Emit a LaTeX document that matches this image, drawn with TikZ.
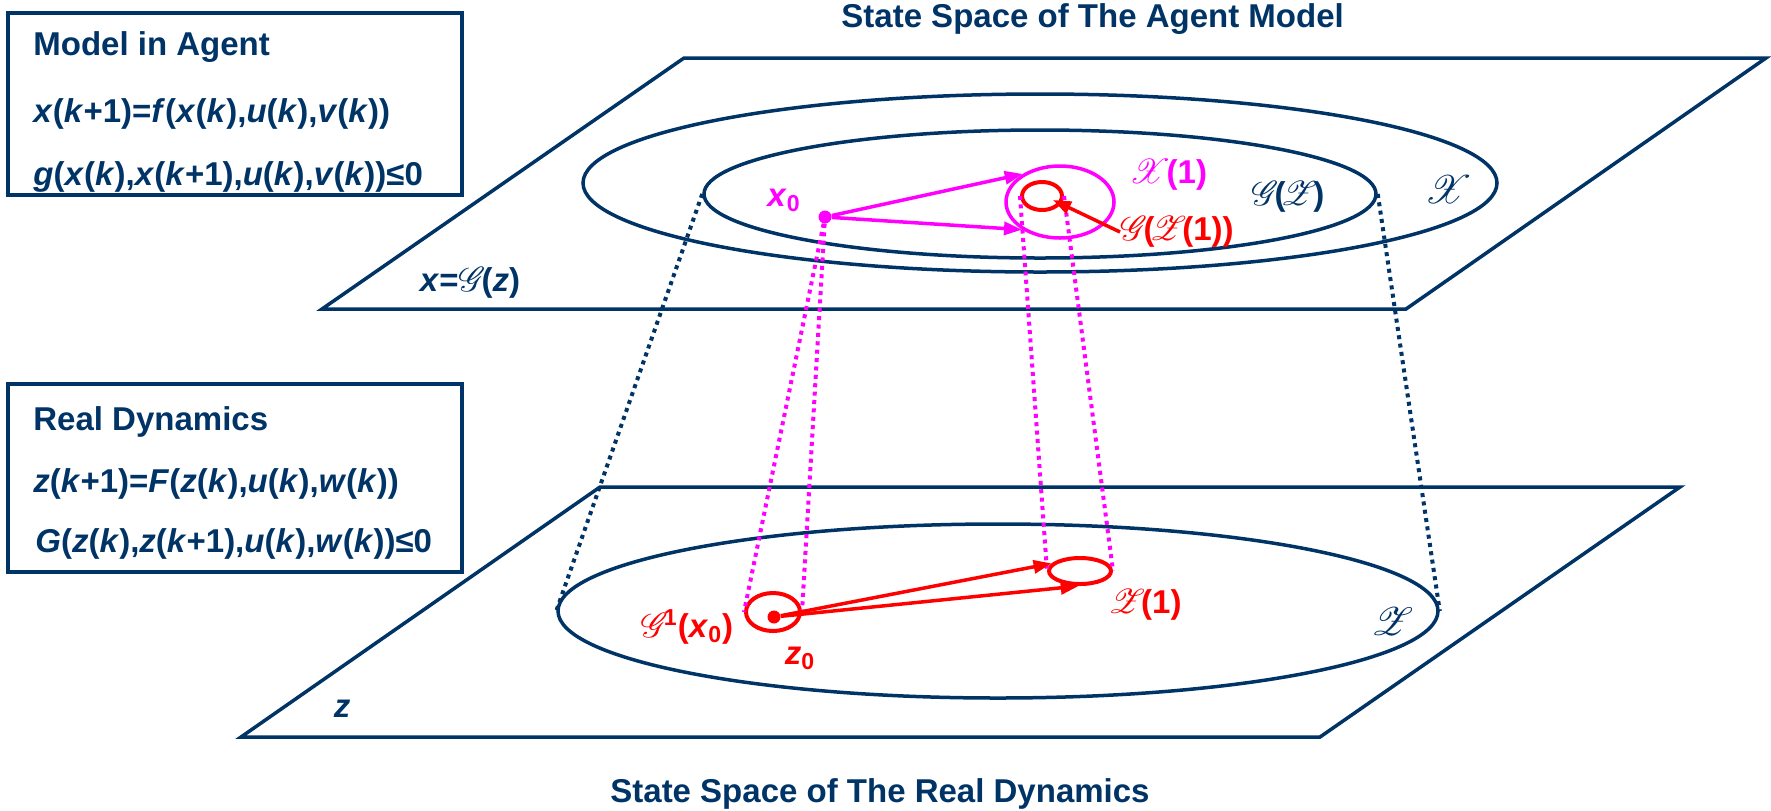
\documentclass[tikz,border=0pt]{standalone}
\usepackage{fontspec}
\setmainfont{Liberation Sans}
\usepackage{mathrsfs}
\usetikzlibrary{shapes.geometric,arrows.meta,calc}
\definecolor{navy}{RGB}{0,51,102}
\definecolor{mag}{RGB}{255,0,255}
\definecolor{redc}{RGB}{255,0,0}
\newcommand{\V}[1]{\textit{#1}}
\newcommand{\Sc}[1]{$\mathscr{#1}$\kern-0.12em}
\newcommand{\ScI}[1]{\kern-0.15em$\mathscr{#1}$\kern-0.12em}
\begin{document}
\begin{tikzpicture}[x=0.5pt,y=-0.5pt,
  txt/.style={inner sep=0pt,font=\fontsize{16.5}{19}\selectfont\bfseries},
  plane/.style={draw=navy,line width=1.75pt,line join=miter},
  boxst/.style={draw=navy,line width=1.6pt,rectangle,inner sep=0pt},
  nell/.style={ellipse,draw=navy,line width=1.75pt,inner sep=0pt},
  mell/.style={ellipse,draw=mag,line width=1.75pt,inner sep=0pt},
  rell/.style={ellipse,draw=redc,line width=2pt,inner sep=0pt},
  navydot/.style={draw=navy,line width=2pt,dash pattern=on 2pt off 2.2pt},
  magdot/.style={draw=mag,line width=2pt,dash pattern=on 2pt off 2.2pt},
  marr/.style={draw=mag,line width=1.75pt,-{Triangle[length=9pt,width=6.5pt]}},
  rarr/.style={draw=redc,line width=1.75pt,-{Triangle[length=9pt,width=6.5pt]}},
  dotm/.style={circle,inner sep=0pt,minimum size=6.5pt,fill=mag},
  dotr/.style={circle,inner sep=0pt,minimum size=6.5pt,fill=redc}]
\useasboundingbox (0,0) rectangle (1771,810);

% planes
\draw[plane] (322,309) -- (684,58) -- (1766,58) -- (1406,309) -- cycle;
\draw[plane] (241,737) -- (600,487) -- (1680,487) -- (1320,737) -- cycle;

% boxes
\node[boxst,minimum width=227pt,minimum height=91pt] (mbox) at (235,104) {};
\node[txt,navy,anchor=base west] (mt) at (33,55) {Model in Agent};
\node[txt,navy,anchor=base west] (me1) at (33,122) {\V{x}(\V{k}+1)=\V{f}(\V{x}(\V{k}),\V{u}(\V{k}),\V{v}(\V{k}))};
\node[txt,navy,anchor=base west] (me2) at (33,185) {\V{g}(\V{x}(\V{k}),\V{x}(\V{k}+1),\V{u}(\V{k}),\V{v}(\V{k}))≤0};

\node[boxst,minimum width=227pt,minimum height=94pt] (rbox) at (235,478) {};
\node[txt,navy,anchor=base west] (rt) at (33,430) {Real Dynamics};
\node[txt,navy,anchor=base west] (re1) at (33,492) {\V{z}(\V{k}+1)=\V{F}(\V{z}(\V{k}),\V{u}(\V{k}),\V{w}(\V{k}))};
\node[txt,navy,anchor=base west] (re2) at (35,552) {\V{G}(\V{z}(\V{k}),\V{z}(\V{k}+1),\V{u}(\V{k}),\V{w}(\V{k}))≤0};

% titles
\node[txt,navy,anchor=base west] (ttop) at (841,27) {State Space of The Agent Model};
\node[txt,navy,anchor=base west] (tbot) at (610,802) {State Space of The Real Dynamics};

% ellipses
\node[nell,minimum width=457pt,minimum height=89pt] (xo) at (1040,183) {};
\node[nell,minimum width=336pt,minimum height=64pt] (gz) at (1040,194) {};
\node[nell,minimum width=440pt,minimum height=87pt] (zs) at (998,611) {};
\node[mell,minimum width=54pt,minimum height=36pt] (X1) at (1060,202) {};
\node[rell,minimum width=20pt,minimum height=14pt] (GZ1) at (1042,196) {};
\node[rell,minimum width=31pt,minimum height=13pt] (Z1) at (1080,571) {};
\node[rell,minimum width=27pt,minimum height=19pt] (Gi) at (773,612) {};

% dots
\node[dotm] (x0d) at (825,217) {};
\node[dotr] (z0d) at (774,617) {};

% projection lines
\draw[navydot] (gz.west) -- (zs.west);
\draw[navydot] (gz.east) -- (zs.east);
\draw[magdot] (x0d) -- (Gi.west);
\draw[magdot] (x0d) -- (Gi.east);
\draw[magdot] (GZ1.west) -- (Z1.west);
\draw[magdot] (GZ1.east) -- (Z1.east);

% labels
\node[txt,navy] (xgz) at (470,283) {\V{x}=\Sc{G}(\V{z})};
\node[txt,navy] (zl) at (342,709) {\V{z}};
\node[txt,navy,scale=1.15] (Xl) at (1446,190) {\Sc{X}};
\node[txt,navy] (GZl) at (1288,197) {\Sc{G}(\ScI{Z})};
\node[txt,navy,scale=1.15] (Zl) at (1390,622) {\Sc{Z}};
\node[txt,mag] (x0l) at (784,200) {\V{x}\textsubscript{0}};
\node[txt,mag] (X1l) at (1168,175) {\Sc{X}(1)};
\node[txt,redc] (GZ1l) at (1177,232) {\Sc{G}(\ScI{Z}(1))};
\node[txt,redc] (Gil) at (687,627) {\Sc{G}\textsuperscript{1}(\V{x}\textsubscript{0})};
\node[txt,redc] (z0l) at (800,658) {\V{z}\textsubscript{0}};
\node[txt,redc] (Z1l) at (1145,605) {\Sc{Z}(1)};

% arrows
\draw[marr] (x0d) -- (X1.143);
\draw[marr] (x0d) -- (X1.216);
\draw[rarr] (GZ1l.west) -- ($(GZ1.center)+(11,4)$);
\draw[rarr] (z0d) -- (Z1.165);
\draw[rarr] (z0d) -- (Z1.265);
\end{tikzpicture}
\end{document}
